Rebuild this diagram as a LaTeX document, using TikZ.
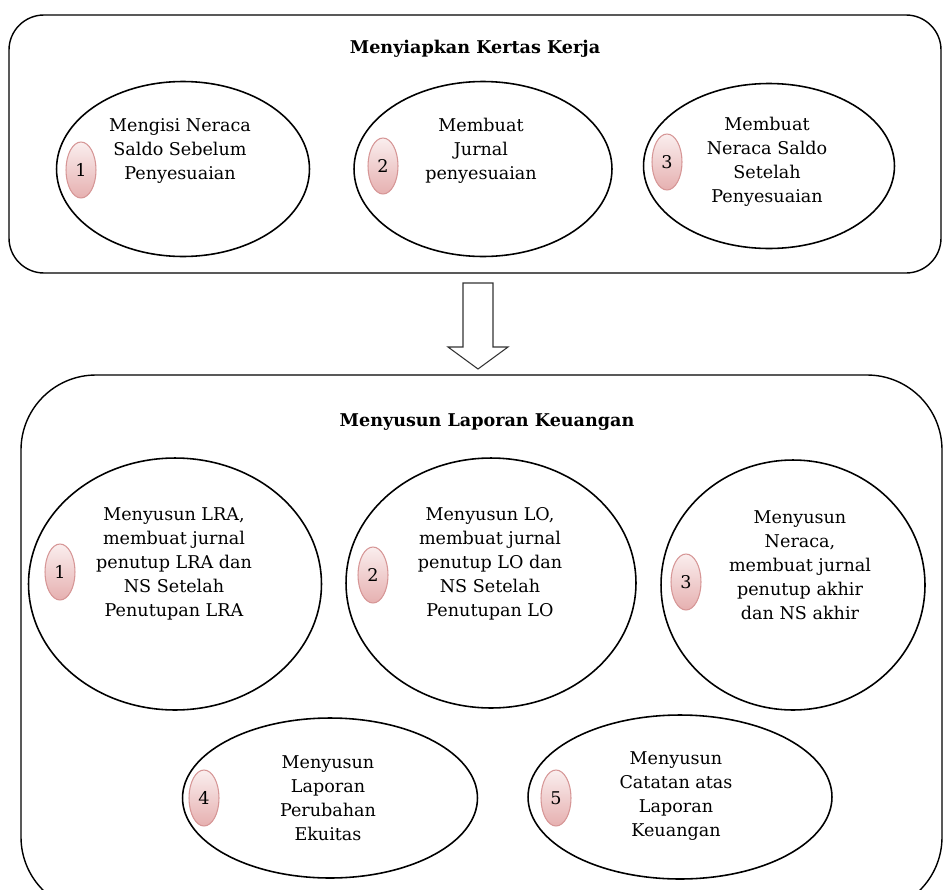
\documentclass[tikz,border=0pt]{standalone}
\usepackage{fontspec}
\setmainfont{DejaVu Serif}
\usetikzlibrary{shapes.geometric}
\definecolor{badgeedge}{RGB}{214,150,150}
\definecolor{badgelow}{RGB}{230,176,176}
\definecolor{badgehigh}{RGB}{250,238,238}

\begin{document}
\begin{tikzpicture}[x=0.02cm, y=-0.02cm,
  panel/.style={draw, line width=0.8pt},
  stage/.style={draw, ellipse, line width=0.9pt, inner sep=0},
  stagetext/.style={align=center, font=\fontsize{10}{13.7}\selectfont},
  badge/.style={ellipse, draw=badgeedge, line width=0.6pt, top color=badgehigh, bottom color=badgelow,
    minimum width=0.6cm, minimum height=1.12cm, inner sep=0, font=\fontsize{10}{12}\selectfont},
  heading/.style={font=\fontsize{10}{12}\selectfont\bfseries}]
\useasboundingbox (0,0) rectangle (943,889);
\clip (0,0) rectangle (943,889);
\draw[panel, rounded corners=0.7cm] (9,15) rectangle (941,273);
\draw[panel, rounded corners=1.5cm] (21,375) rectangle (942,912);
\node[heading] (kk) at (475,49) {Menyiapkan Kertas Kerja};
\node[heading] (lk) at (487,422) {Menyusun Laporan Keuangan};
% kertas kerja
\node[stage, minimum width=5.06cm, minimum height=3.5cm] (ka) at (183,169) {};
\node[stage, minimum width=5.16cm, minimum height=3.5cm] (kb) at (483,169) {};
\node[stage, minimum width=5.02cm, minimum height=3.3cm] (kc) at (769,166) {};
\node[stagetext] (kta) at (180,151) {Mengisi Neraca\\Saldo Sebelum\\Penyesuaian};
\node[stagetext] (ktb) at (481,151) {Membuat\\Jurnal\\penyesuaian};
\node[stagetext] (ktc) at (767,162) {Membuat\\Neraca Saldo\\Setelah\\Penyesuaian};
\foreach \n/\x/\y in {1/81/170, 2/383/166, 3/667/162}
  \node[badge] (kn\n) at (\x,\y) {\n};
% panah
\draw[draw=black!80, line width=0.6pt, fill=white] (463,283) -- (493,283) -- (493,347) -- (508,347)
  -- (478,369) -- (448,347) -- (463,347) -- cycle;
% laporan keuangan
\node[stage, minimum width=5.86cm, minimum height=5.04cm] (la) at (175,584) {};
\node[stage, minimum width=5.8cm, minimum height=5.0cm] (lb) at (491,583) {};
\node[stage, minimum width=5.28cm, minimum height=5.0cm] (lc) at (793,585) {};
\node[stage, minimum width=5.9cm, minimum height=3.2cm] (ld) at (330,798) {};
\node[stage, minimum width=6.08cm, minimum height=3.28cm] (le) at (680,797) {};
\node[stagetext] (lta) at (174,564) {Menyusun LRA,\\membuat jurnal\\penutup LRA dan\\NS Setelah\\Penutupan LRA};
\node[stagetext] (ltb) at (490,564) {Menyusun LO,\\membuat jurnal\\penutup LO dan\\NS Setelah\\Penutupan LO};
\node[stagetext] (ltc) at (800,565) {Menyusun\\Neraca,\\membuat jurnal\\penutup akhir\\dan NS akhir};
\node[stagetext] (ltd) at (328,798) {Menyusun\\Laporan\\Perubahan\\Ekuitas};
\node[stagetext] (lte) at (676,796) {Menyusun\\Catatan atas\\Laporan\\Keuangan};
\foreach \n/\x/\y in {1/60/572, 2/373/575, 3/686/582, 4/204/798, 5/556/798}
  \node[badge] (ln\n) at (\x,\y) {\n};
\end{tikzpicture}
\end{document}
